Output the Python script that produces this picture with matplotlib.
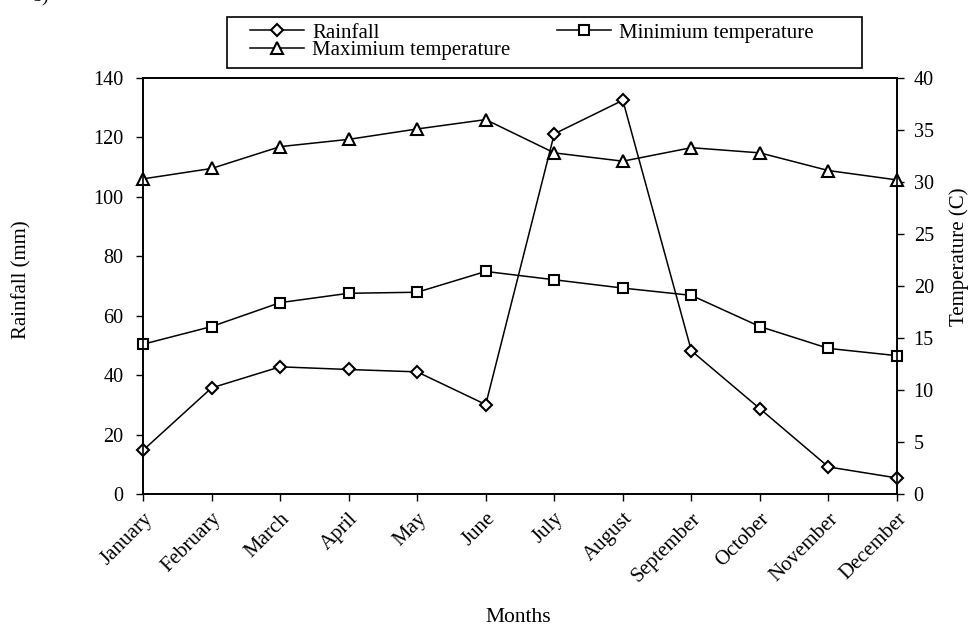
import numpy as np
import matplotlib.pyplot as plt
import matplotlib.transforms as mtransforms
from matplotlib.patches import Rectangle

plt.rcParams['font.family'] = ['Liberation Serif', 'DejaVu Serif']

months = ["January", "February", "March", "April", "May", "June", "July",
          "August", "September", "October", "November", "December"]
rainfall = [14.7, 35.7, 42.8, 41.9, 41.1, 30.1, 121.2, 132.5, 48.2, 28.7, 9.1, 5.4]
min_temp = [14.4, 16.1, 18.4, 19.3, 19.4, 21.4, 20.6, 19.8, 19.1, 16.1, 14.0, 13.3]
max_temp = [30.3, 31.3, 33.4, 34.1, 35.1, 36.0, 32.8, 32.0, 33.3, 32.8, 31.1, 30.2]

x = np.arange(len(months))
fs = 14.5
W, H = 970, 626

fig = plt.figure(figsize=(9.7, 6.26), dpi=100)
ax = fig.add_axes([143/W, 1-494/H, (897-143)/W, (494-78)/H])
ax2 = ax.twinx()

mk = dict(color='black', lw=1.1, markersize=7, markerfacecolor='white',
          markeredgecolor='black', markeredgewidth=1.5, clip_on=False)
l1, = ax.plot(x, rainfall, marker='D', label='Rainfall', zorder=3, **mk)
l2, = ax2.plot(x, min_temp, marker='s', label='Minimium temperature', **mk)
l3, = ax2.plot(x, max_temp, marker='^', label='Maximium temperature', **mk)
l1.set_markersize(6)
l3.set_markersize(8)

ax.set_xlim(0, 11)
ax.set_ylim(0, 140)
ax2.set_ylim(0, 40)
ax.set_yticks(np.arange(0, 141, 20))
ax2.set_yticks(np.arange(0, 41, 5))
ax.set_xticks(x)
ax.set_xticklabels(months, rotation=45, ha='right', rotation_mode='anchor', fontsize=15)

# shift month labels a bit left/down like the original
shift = mtransforms.ScaledTranslation(-13/100, -3/100, fig.dpi_scale_trans)
for lab in ax.get_xticklabels():
    lab.set_transform(lab.get_transform() + shift)

ax.tick_params(axis='y', direction='out', length=5, width=1, labelsize=fs, pad=9)
ax2.tick_params(axis='y', direction='out', length=5, width=1, labelsize=fs, pad=7)
ax.tick_params(axis='x', direction='out', length=5, width=1, pad=6)

for a in (ax, ax2):
    for s in a.spines.values():
        s.set_linewidth(1.2)

ax.set_ylabel("Rainfall (mm)", fontsize=15)
ax.yaxis.set_label_coords(-0.148, 0.514)
ax2.set_ylabel("Temperature (C)", fontsize=15)
ax2.yaxis.set_label_coords((949-143)/754, 0.57)
fig.text(518/W, 1-622/H, "Months", fontsize=15.5, ha='center', va='baseline')

# legend box drawn separately so the padding matches
fig.patches.append(Rectangle((227/W, 1-68/H), (862-227)/W, (68-17)/H,
                             transform=fig.transFigure, fill=False,
                             edgecolor='black', lw=1.2))
leg = fig.legend([l1, l3, l2], ['Rainfall', 'Maximium temperature', 'Minimium temperature'],
                 ncol=2, loc='upper left', bbox_to_anchor=(250/W, 1-23/H),
                 fontsize=15, frameon=False, handlelength=2.6, handletextpad=0.4,
                 labelspacing=-0.08, borderpad=0, borderaxespad=0, columnspacing=2.2)

fig.text(0.034, 1.005, "b)", fontsize=fs, va='center')

fig.savefig("out.png", dpi=100)
